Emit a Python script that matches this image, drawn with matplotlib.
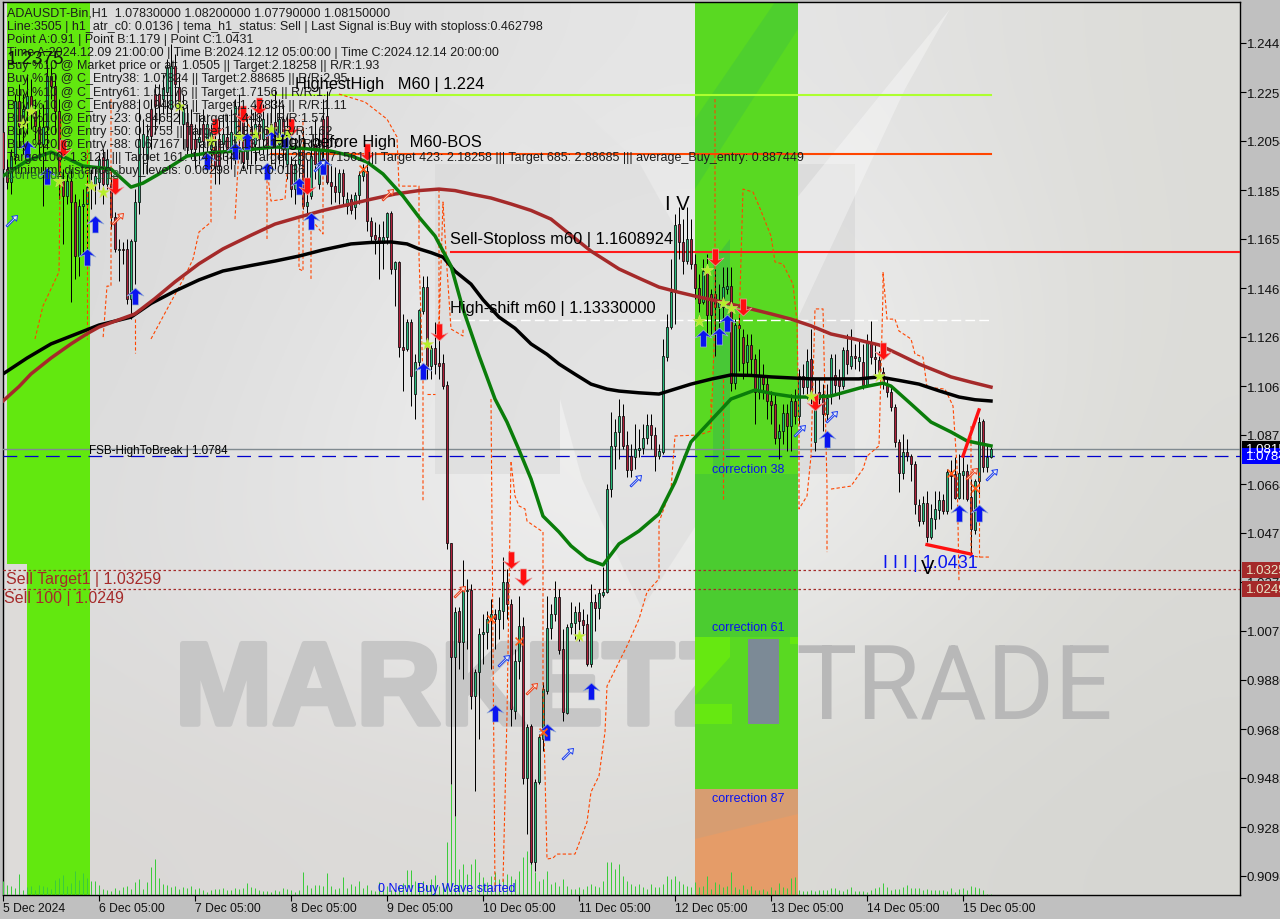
import numpy as np
import matplotlib
matplotlib.use('Agg')
import matplotlib.pyplot as plt
import matplotlib.patheffects as pe
from matplotlib.path import Path
from matplotlib.patches import Rectangle, Polygon
from matplotlib.transforms import blended_transform_factory

### Chart values (bar number = hours since 5 Dec 05:00).

opens = [1.2091,1.1942,1.1890,1.1994,1.2216,1.2115,1.2184,1.2236,1.2176,1.2111,1.2043,1.2111,1.2317,1.2276,1.2176,1.1894,
1.1833,1.1894,1.1809,1.1591,1.1793,1.1801,1.1890,1.1881,1.1890,1.1990,1.1881,1.1881,1.1748,1.1616,1.1620,1.1620,
1.1418,1.1652,1.1809,1.2031,1.1982,1.2184,1.2244,1.2244,1.2224,1.2252,1.2184,1.2357,1.2272,1.2123,1.2131,1.2123,
1.2063,1.2051,1.2123,1.2063,1.2023,1.2035,1.2063,1.2043,1.2071,1.2023,1.2035,1.2196,1.2143,1.1982,1.2103,1.2043,
1.2123,1.2063,1.2103,1.2043,1.2131,1.2043,1.2143,1.1962,1.1962,1.1861,1.1962,1.2023,1.1793,1.1833,1.2043,1.1881,
1.2143,1.2156,1.1890,1.1873,1.1849,1.1926,1.1793,1.1821,1.1789,1.1837,1.1914,1.1934,1.1732,1.1676,1.1668,1.1644,
1.1668,1.1765,1.1539,1.1567,1.1225,1.1217,1.1325,1.1035,1.1164,1.1370,1.1466,1.1148,1.1220,1.1160,1.1160,1.1071,
1.0435,0.9975,1.0161,1.0036,1.0241,1.0245,0.9818,0.9915,1.0068,1.0076,1.0128,1.0149,1.0128,1.0161,1.0278,1.0189,
0.9758,0.9959,1.0100,0.9488,0.9697,0.9149,0.9471,0.9645,0.9838,1.0092,1.0149,1.0217,1.0008,0.9750,1.0096,1.0112,
1.0157,1.0124,1.0108,0.9947,1.0197,1.0173,1.0225,1.0237,1.0652,1.0826,1.0882,1.0946,1.0830,1.0785,1.0781,1.0810,
1.0818,1.0858,1.0910,1.0870,1.0785,1.0801,1.1184,1.1305,1.1446,1.1720,1.1648,1.1571,1.1660,1.1559,1.1462,1.1406,
1.1531,1.1438,1.1438,1.1386,1.1386,1.1458,1.1470,1.1079,1.1313,1.1265,1.1164,1.1233,1.1176,1.1043,1.1108,1.1075,
1.1007,1.0995,1.0858,1.0886,1.0959,1.0906,1.1007,1.0946,1.1108,1.1063,1.1176,1.0842,1.1043,1.1035,1.0955,1.1035,
1.1112,1.1096,1.1067,1.1212,1.1148,1.1188,1.1168,1.1164,1.1071,1.1245,1.1184,1.1172,1.1124,1.1075,1.1043,1.0983,
1.0842,1.0717,1.0801,1.0785,1.0753,1.0588,1.0523,1.0596,1.0459,1.0531,1.0568,1.0608,1.0564,1.0721,1.0713,1.0616,
1.0709,1.0725,1.0620,1.0487,1.0685,1.0926,1.0741,1.0783]
highs = [1.2184,1.1982,1.2023,1.2244,1.2284,1.2244,1.2325,1.2305,1.2224,1.2184,1.2204,1.2365,1.2365,1.2325,1.2224,1.1942,
1.1922,1.1942,1.1841,1.1821,1.1861,1.1930,1.1942,1.1954,1.2002,1.2023,1.2023,1.1942,1.1769,1.1660,1.1648,1.1660,
1.1660,1.1861,1.2224,1.2143,1.2123,1.2224,1.2284,1.2284,1.2325,1.2385,1.2446,1.2405,1.2325,1.2244,1.2204,1.2184,
1.2123,1.2164,1.2184,1.2164,1.2123,1.2123,1.2143,1.2164,1.2164,1.2184,1.2224,1.2244,1.2204,1.2164,1.2184,1.2204,
1.2224,1.2204,1.2164,1.2224,1.2264,1.2224,1.2204,1.2164,1.1994,1.1982,1.2043,1.2103,1.1982,1.2063,1.2143,1.2103,
1.2224,1.2256,1.1962,1.1950,1.1942,1.1942,1.1849,1.1841,1.1849,1.1934,1.1962,1.1962,1.1748,1.1728,1.1720,1.1732,
1.1769,1.1773,1.1571,1.1571,1.1358,1.1337,1.1337,1.1196,1.1378,1.1511,1.1511,1.1233,1.1325,1.1257,1.1196,1.1088,
1.0435,1.0177,1.0177,1.0366,1.0290,1.0269,0.9927,1.0092,1.0149,1.0161,1.0209,1.0169,1.0217,1.0378,1.0330,1.0209,
1.0008,1.0221,1.0137,0.9705,0.9705,0.9484,0.9665,0.9875,1.0221,1.0189,1.0282,1.0249,1.0088,1.0108,1.0197,1.0181,
1.0197,1.0169,1.0149,1.0269,1.0229,1.0249,1.0338,1.0672,1.0963,1.0934,1.1015,1.0995,1.0886,1.0834,1.0914,1.0894,
1.0914,1.0955,1.0955,1.0902,1.0834,1.1257,1.1358,1.1579,1.1761,1.1789,1.1740,1.1789,1.1740,1.1599,1.1519,1.1579,
1.1599,1.1458,1.1539,1.1478,1.1547,1.1547,1.1547,1.1337,1.1358,1.1297,1.1277,1.1277,1.1196,1.1217,1.1156,1.1104,
1.1047,1.1035,1.0914,1.0995,1.0995,1.1035,1.1055,1.1136,1.1156,1.1217,1.1297,1.1096,1.1096,1.1075,1.1075,1.1196,
1.1196,1.1136,1.1225,1.1277,1.1297,1.1237,1.1257,1.1237,1.1277,1.1329,1.1237,1.1208,1.1144,1.1104,1.1063,1.0995,
1.0854,1.0874,1.0854,1.0793,1.0765,1.0612,1.0624,1.0644,1.0592,1.0644,1.0644,1.0632,1.0733,1.0769,1.0781,1.0793,
1.0785,1.0753,1.0693,1.0693,1.0942,1.0934,1.0834,1.0820]
lows = [1.1821,1.1861,1.1841,1.1962,1.2023,1.2002,1.2083,1.2103,1.2063,1.1982,1.1793,1.2023,1.2224,1.2083,1.1821,1.1640,
1.1801,1.1406,1.1499,1.1511,1.1599,1.1607,1.1781,1.1801,1.1861,1.1801,1.1861,1.1700,1.1607,1.1491,1.1559,1.1398,
1.1337,1.1478,1.1761,1.1922,1.1922,1.2023,1.2083,1.2123,1.2164,1.2143,1.2103,1.2204,1.2123,1.2023,1.2002,1.1982,
1.1942,1.1962,1.1982,1.2002,1.1942,1.1881,1.1881,1.1982,1.1962,1.1942,1.1962,1.1982,1.1942,1.1942,1.1962,1.1962,
1.2002,1.2002,1.1982,1.1962,1.1942,1.1962,1.1942,1.1902,1.1829,1.1801,1.1841,1.1781,1.1748,1.1821,1.1902,1.1861,
1.1962,1.1881,1.1801,1.1809,1.1801,1.1801,1.1761,1.1761,1.1740,1.1801,1.1894,1.1692,1.1652,1.1599,1.1499,1.1539,
1.1640,1.1519,1.1390,1.1184,1.1047,1.1208,1.0987,1.0934,1.1136,1.1358,1.1096,1.1096,1.1116,1.1096,1.1055,1.0411,
0.9463,0.9334,0.9927,0.9887,1.0008,0.9766,0.9435,0.9645,0.9947,1.0008,0.9927,1.0008,1.0048,1.0088,1.0128,0.9697,
0.9725,0.9887,0.9463,0.9262,0.9141,0.9113,0.9463,0.9596,0.9826,1.0048,1.0120,0.9987,0.9717,0.9746,1.0068,1.0048,
1.0040,1.0068,0.9939,0.9935,1.0080,1.0128,1.0217,1.0233,1.0620,1.0733,1.0773,1.0814,1.0701,1.0701,1.0733,1.0781,
1.0793,1.0834,1.0814,1.0725,1.0773,1.0793,1.1168,1.1297,1.1317,1.1579,1.1519,1.1559,1.1539,1.1418,1.1366,1.1398,
1.1269,1.1277,1.1188,1.1277,1.1337,1.1438,1.1047,1.1055,1.1128,1.1096,1.1116,1.1116,1.0914,1.1015,1.1015,1.0934,
1.0914,1.0834,1.0773,1.0834,1.0805,1.0805,1.0914,1.0914,1.1035,1.1015,1.0995,1.0805,1.0995,1.0886,1.0926,1.0995,
1.1035,1.1015,1.1055,1.1116,1.1136,1.1136,1.1128,1.1055,1.1063,1.1156,1.1116,1.1104,1.1055,1.1023,1.0967,1.0822,
1.0640,1.0693,1.0765,1.0685,1.0552,1.0503,1.0511,1.0439,1.0451,1.0491,1.0531,1.0552,1.0552,1.0572,1.0612,1.0612,
1.0612,1.0604,1.0390,1.0471,1.0632,1.0721,1.0721,1.0779]
closes = [1.1942,1.1890,1.1994,1.2216,1.2115,1.2184,1.2236,1.2184,1.2115,1.2043,1.2111,1.2317,1.2276,1.2176,1.1930,1.1833,
1.1894,1.1809,1.1591,1.1793,1.1801,1.1869,1.1869,1.1914,1.1982,1.1881,1.1982,1.1748,1.1620,1.1620,1.1616,1.1418,
1.1652,1.1809,1.2063,1.2083,1.2075,1.2075,1.2196,1.2196,1.2264,1.2353,1.2357,1.2284,1.2196,1.2184,1.2031,1.2023,
1.2023,1.2071,1.2055,1.2123,1.2091,1.1954,1.1954,1.2083,1.2023,1.2091,1.2196,1.2075,1.1970,1.2083,1.2023,1.2123,
1.2063,1.2143,1.2035,1.2123,1.2035,1.2143,1.2023,1.2063,1.1861,1.1962,1.2023,1.1793,1.1809,1.1994,1.1962,1.2023,
1.2023,1.1890,1.1873,1.1849,1.1926,1.1833,1.1821,1.1777,1.1837,1.1918,1.1934,1.1732,1.1672,1.1660,1.1644,1.1668,
1.1765,1.1539,1.1567,1.1225,1.1212,1.1325,1.1108,1.1164,1.1374,1.1466,1.1148,1.1220,1.1156,1.1148,1.1067,1.0435,
0.9975,1.0157,1.0036,1.0245,1.0245,0.9818,0.9915,1.0068,1.0076,1.0128,1.0149,1.0128,1.0165,1.0278,1.0189,0.9766,
0.9959,1.0100,0.9488,0.9693,0.9149,0.9471,0.9653,0.9846,1.0092,1.0149,1.0217,1.0004,0.9754,1.0096,1.0112,1.0157,
1.0120,1.0104,0.9947,1.0197,1.0173,1.0233,1.0237,1.0652,1.0826,1.0882,1.0946,1.0826,1.0729,1.0729,1.0814,1.0818,
1.0858,1.0910,1.0870,1.0785,1.0805,1.1188,1.1305,1.1446,1.1716,1.1648,1.1571,1.1660,1.1559,1.1462,1.1402,1.1531,
1.1354,1.1354,1.1386,1.1410,1.1466,1.1470,1.1079,1.1313,1.1301,1.1160,1.1233,1.1176,1.1043,1.1108,1.1075,1.1007,
1.0991,1.0858,1.0886,1.0959,1.0906,1.1007,1.0946,1.1108,1.1063,1.1168,1.1027,1.1027,1.1015,1.0955,1.1019,1.1180,
1.1071,1.1067,1.1212,1.1156,1.1188,1.1180,1.1184,1.1071,1.1245,1.1184,1.1176,1.1124,1.1075,1.1043,1.0983,1.0842,
1.0717,1.0801,1.0785,1.0753,1.0592,1.0523,1.0596,1.0459,1.0535,1.0572,1.0608,1.0564,1.0721,1.0705,1.0616,1.0717,
1.0725,1.0612,1.0491,1.0685,1.0922,1.0741,1.0781,1.0815]
volumes = [14,10,9,7,21,5,8,9,5,10,9,8,6,15,17,20,9,12,24,15,22,17,14,14,10,6,5,4,7,5,8,9,6,13,16,6,13,28,36,17,11,10,8,9,6,8,7,9,6,7,
5,3,5,6,6,7,5,5,7,6,7,12,8,7,5,4,4,3,5,4,7,6,5,3,5,23,10,7,10,10,9,22,9,6,7,18,7,11,9,14,7,10,5,4,13,6,9,5,5,9,
12,25,25,14,12,14,10,16,20,9,12,
53,111,79,26,31,21,31,36,23,18,13,19,23,16,16,21,19,16,24,38,44,33,23,14,16,24,11,13,9,16,9,6,6,8,6,9,11,9,8,14,33,33,26,31,19,14,11,9,11,8,6,11,8,8,11,19,16,19,14,11,9,8,13,8,9,19,6,13,11,8,9,23,8,6,
10,6,9,5,5,6,4,8,5,12,8,7,17,18,5,4,4,5,4,5,5,5,7,7,5,4,6,8,4,4,4,3,5,7,8,12,8,5,6,6,8,10,7,7,7,5,6,5,5,5,5,4,7,3,6,7,5,9,8,7,5,1,1]

black_bars = [0,6,12,18,24,32,37,43,49,55,62,68,74,80,87,92,97,101,104,107,110,113,117,120,124,128,132,136,139,143,147,151,154,159,164,168,172,177,182,187,192,197,202,208,214,219,224,229,234,239,243,247]
black_ma = [1.1116,1.1180,1.1237,1.1275,1.1313,1.1345,1.1400,1.1450,1.1495,1.1531,1.1553,1.1571,1.1591,1.1616,1.1640,1.1646,1.1648,1.1640,1.1620,1.1605,1.1587,1.1530,1.1478,1.1415,1.1345,1.1300,1.1237,1.1195,1.1156,1.1115,1.1075,1.1055,1.1047,1.1040,1.1035,1.1055,1.1075,1.1095,1.1112,1.1110,1.1104,1.1100,1.1096,1.1096,1.1096,1.1104,1.1090,1.1075,1.1048,1.1023,1.1012,1.1007]
brown_bars = [0,4,7,12,17,21,24,33,38,43,49,55,62,68,74,80,87,92,98,104,109,113,117,122,127,132,137,142,147,151,154,159,164,169,174,180,187,192,197,202,207,213,219,224,229,233,237,242,247]
brown_ma = [1.1007,1.1065,1.1116,1.1180,1.1237,1.1278,1.1305,1.1358,1.1420,1.1487,1.1560,1.1620,1.1675,1.1720,1.1748,1.1775,1.1801,1.1820,1.1841,1.1855,1.1861,1.1855,1.1841,1.1825,1.1801,1.1775,1.1740,1.1675,1.1611,1.1570,1.1539,1.1502,1.1466,1.1445,1.1426,1.1405,1.1378,1.1358,1.1337,1.1310,1.1277,1.1256,1.1233,1.1195,1.1156,1.1130,1.1104,1.1083,1.1063]
green_bars = [0,6,12,16,20,27,32,35,39,46,52,58,68,75,82,87,91,95,100,104,108,112,115,119,123,126,129,132,135,139,142,146,150,154,159,164,168,172,178,182,188,193,198,202,207,215,220,222,227,232,237,241,247]
green_ma = [1.1914,1.1975,1.2010,1.1985,1.1954,1.1942,1.1869,1.1885,1.1922,1.1994,1.2008,1.2014,1.2031,1.2025,1.2014,1.1995,1.1970,1.1922,1.1833,1.1748,1.1672,1.1551,1.1378,1.1190,1.1015,1.0922,1.0810,1.0693,1.0543,1.0479,1.0423,1.0370,1.0346,1.0431,1.0483,1.0552,1.0680,1.0842,1.0946,1.1015,1.1051,1.1035,1.1023,1.1023,1.1027,1.1063,1.1079,1.1067,1.0995,1.0922,1.0882,1.0846,1.0826]

# orange dashed envelope pieces
env_a_bars = [8,10,14,14.5]
env_a = [1.1257,1.1390,1.1527,1.2143]
env_b_bars = [21,21]
env_b = [1.2023,1.1257]
env_c_bars = [27,27,26,25]
env_c = [1.2224,1.1470,1.1470,1.1257]
env_d_bars = [33,33]
env_d = [1.1337,1.1200]
env_e_bars = [37,45.5,47.5,49,52,52,53]
env_e = [1.1257,1.1511,1.1579,1.1688,1.1728,1.1902,1.2143]
env_f_bars = [58,59,59,62]
env_f = [1.1740,1.2023,1.2184,1.2103]
env_g_bars = [66,66,67,70.5,71]
env_g = [1.1660,1.1942,1.1813,1.1821,1.1922]
env_h_bars = [74,74,75,75]
env_h = [1.1740,1.1539,1.1531,1.2143]
env_i_bars = [77,77,80,80]
env_i = [1.1499,1.1740,1.1680,1.1942]
env_j_bars = [84,90.5,96,98.5,99,104,104,105,105]
env_j = [1.2244,1.2212,1.2143,1.2071,1.1873,1.1873,1.1591,1.1096,1.0604]
env_k_bars = [106,108]
env_k = [1.1035,1.1035]
env_l_bars = [109,109,110,111,112,115,115]
env_l = [1.1861,1.1297,1.1809,1.1539,1.1297,1.1269,1.1297]
env_m_bars = [122,123]
env_m = [1.1015,0.9028]
env_n_bars = [127,126,125]
env_n = [1.0761,0.9737,0.9068]
env_o_bars = [127,128,129,130.5,131,135,135,135,136,137.5,138.5,143,146,147,149,150.5,151,153.5,156,159,161,164,164,167,168,174,177,177]
env_o = [1.0761,1.0624,1.0584,1.0572,1.0523,1.0479,1.0463,0.9846,0.9161,0.9165,0.9181,0.9181,0.9310,0.9431,0.9496,0.9673,0.9858,0.9939,1.0020,1.0128,1.0237,1.0290,1.0519,1.0652,1.0866,1.0870,1.0886,1.1015]
env_p_bars = [178,178,177]
env_p = [1.2224,1.1337,1.0894]
env_q_bars = [180,180]
env_q = [1.1096,1.0612]
env_r_bars = [184,185,187.5,189,192,193,195,197.5,198.5,199,199,201,202,203,205,206,206]
env_r = [1.1297,1.1861,1.1849,1.1793,1.1672,1.1567,1.1559,1.1478,1.1325,1.0882,1.0572,1.0624,1.0785,1.1378,1.1378,1.0664,1.0398]
env_s_bars = [207,212,215,216,219,220,220,221,223,224,227,228,230,231,235.5,237.5,238.5,239]
env_s = [1.0652,1.0664,1.0733,1.0785,1.0826,1.1446,1.1527,1.1337,1.1337,1.1289,1.1257,1.1196,1.1184,1.1063,1.1055,1.0987,1.0745,1.0278]
env_t_bars = [242,242,244,247]
env_t = [1.0906,1.0383,1.0378,1.0378]
env_u_bars = [244,244]
env_u = [1.0722,1.0378]

blue_up_bars = [6,11,23,21,33,51,58,61,67.5,70.5,66,74,77,80,105,123,136,147,175,179,181,206,239,244]
blue_up = [1.2023,1.1914,1.1720,1.1587,1.1430,1.1974,1.2014,1.2055,1.2071,1.2063,1.1934,1.1873,1.1732,1.1954,1.1128,0.9750,0.9673,0.9838,1.1261,1.1269,1.1321,1.0854,1.0556,1.0556]
red_down_bars = [15,28,53,60,64,72,76,91,109,127,130,178,185,203,220]
red_down = [1.2027,1.1873,1.2111,1.2164,1.2196,1.2111,1.1873,1.2010,1.1285,1.0366,1.0298,1.1587,1.1386,1.1003,1.1208]
star_bars = [7,5,14,22,25,44,52,59,63,67,69,71,106,144,176,174,180,182,202,219]
stars = [1.2176,1.2127,1.1894,1.1873,1.1849,1.2196,1.2055,1.2075,1.2083,1.2103,1.2063,1.2083,1.1237,1.0060,1.1535,1.1329,1.1402,1.1382,1.1027,1.1108]
hollow_blue_bars = [2,158,125,141,199,207,247,79]
hollow_blue = [1.1732,1.0685,0.9959,0.9584,1.0886,1.0942,1.0709,1.1954]
hollow_red_bars = [28.5,96,114,132,242]
hollow_red = [1.1740,1.1837,1.0237,0.9846,1.0713]
cross_bars = [122,129,135,237,243,90]
crosses = [1.0128,1.0040,0.9673,1.0717,1.0656,1.1942]

ytick_vals = [1.2450,1.2252,1.2055,1.1857,1.1660,1.1462,1.1265,1.1067,1.0870,1.0672,1.0475,1.0278,1.0080,0.9883,0.9685,0.9488,0.9290,0.9093]
ytick_text = ['1.24470','1.22510','1.20540','1.18570','1.16590','1.14620','1.12650','1.10680','1.08710','1.06640','1.04770','1.02700','1.00730','0.98860','0.96890','0.94820','0.92850','0.90980']
xtick_bars = [0,24,48,72,96,120,144,168,192,216,240]
xtick_text = ['5 Dec 2024','6 Dec 05:00','7 Dec 05:00','8 Dec 05:00','9 Dec 05:00','10 Dec 05:00','11 Dec 05:00','12 Dec 05:00','13 Dec 05:00','14 Dec 05:00','15 Dec 05:00']

header_lines = [
    'ADAUSDT-Bin,H1  1.07830000 1.08200000 1.07790000 1.08150000',
    'Line:3505 | h1_atr_c0: 0.0136 | tema_h1_status: Sell | Last Signal is:Buy with stoploss:0.462798',
    'Point A:0.91 | Point B:1.179 | Point C:1.0431',
    'Time A:2024.12.09 21:00:00 | Time B:2024.12.12 05:00:00 | Time C:2024.12.14 20:00:00',
    'Buy %10 @ Market price or at: 1.0505 || Target:2.18258 || R/R:1.93',
    'Buy %10 @ C_Entry38: 1.07824 || Target:2.88685 || R/R:2.95',
    'Buy %10 @ C_Entry61: 1.01176 || Target:1.7156 || R/R:1.7',
    'Buy %10 @ C_Entry88: 0.94863 || Target:1.47834 || R/R:1.11',
    'Buy %10 @ Entry -23: 0.84652 || Target:1.448 || R/R:1.57',
    'Buy %20 @ Entry -50: 0.7755 || Target:1.28176 || R/R:1.62',
    'Buy %20 @ Entry -88: 0.67167 || Target:1.13121 || R/R:3.07',
    'Target100: 1.3121 ||| Target 161: 1.47834 ||| Target 250: 1.71561 ||| Target 423: 2.18258 ||| Target 685: 2.88685 ||| average_Buy_entry: 0.887449',
    'minimum_distance_buy_levels: 0.06298 | ATR:0.0136',
]

### Figure parameters.

W, H = 1280, 920
FONT = 'Liberation Sans'
plt.rcParams['font.family'] = [FONT, 'DejaVu Sans']

fig = plt.figure(figsize=(W/100, H/100), dpi=100, facecolor='#c0c0c0')
ax = fig.add_axes([3/W, 1-896/H, (1240-3)/W, (896-3)/H])
ax.set_xlim(0, 309.25)
ax.set_ylim(0.9016, 1.2615)
ax.set_facecolor('#dddddd')
ax.set_zorder(2)

# pixel transform for decoration (x, y measured from the top-left of the picture)
px = matplotlib.transforms.Affine2D().scale(1, -1).translate(0, H)

### Background gradient.

grid = np.array([
    [[0xdc,0xdc,0xdc],[0xde,0xde,0xde],[0xe6,0xe6,0xe6],[0xe4,0xe4,0xe4],[0xdc,0xdc,0xd8]],
    [[0xda,0xda,0xda],[0xe6,0xe6,0xe6],[0xf2,0xf2,0xf2],[0xee,0xee,0xee],[0xdc,0xdc,0xd8]],
    [[0xde,0xde,0xde],[0xea,0xea,0xea],[0xf0,0xf0,0xf0],[0xe8,0xe8,0xe6],[0xda,0xda,0xd6]],
    [[0xda,0xd8,0xd6],[0xdc,0xda,0xd8],[0xdc,0xdb,0xd8],[0xd9,0xd9,0xd5],[0xd6,0xd6,0xd2]],
], dtype=float) / 255
ax.imshow(grid, extent=(0, 1, 0, 1), transform=ax.transAxes, aspect='auto',
          interpolation='bicubic', zorder=0)
ax.set_xlim(0, 309.25)
ax.set_ylim(0.9016, 1.2615)

### Bands (bars and prices).

ax.axvspan(1, 21.75, ymin=0, ymax=1, color='#62e80f', lw=0, zorder=1)
ax.axvspan(1, 6, ymin=0, ymax=(1.0350-0.9016)/(1.2615-0.9016), color='#dddbd9', lw=0, zorder=1.1)
ax.axvspan(173, 198.75, ymin=(0.9445-0.9016)/(1.2615-0.9016), ymax=1, color='#59d922', lw=0, zorder=1)
ax.axvspan(173, 198.75, ymin=0, ymax=(0.9445-0.9016)/(1.2615-0.9016), color='#e59c68', lw=0, zorder=1)

### Watermark.

def shape(points, color, alpha=1.0, z=0.6):
    ax.add_patch(Polygon(points, closed=True, transform=px, color=color, alpha=alpha, lw=0, zorder=z))

# M logo, legs and wedge, under the bands
shape([(435,165),(560,165),(560,475),(435,475)], '#d8d8d8', 0.55)
shape([(730,165),(855,165),(855,475),(730,475)], '#d4d4d4', 0.55)
shape([(560,165),(640,165),(715,300),(715,497),(642,610),(582,480),(560,400)], '#d8d8d8', 0.45)
shape([(715,497),(715,300),(950,10),(905,90),(760,400)], '#ffffff', 0.35)
shape([(430,90),(560,90),(640,165),(560,165)], '#e4e4e4', 0.5)
# darker stripes over the middle band
shape([(695,120),(775,3),(798,3),(798,30),(695,190)], '#45c63a', 0.5, 1.3)
shape([(713,262),(730,240),(730,475),(713,475)], '#45c63a', 0.85, 1.3)
shape([(695,475),(798,475),(798,638),(695,638)], '#48c934', 0.8, 1.3)
shape([(695,790),(798,790),(798,815),(695,840)], '#d49e74', 0.8, 1.3)
shape([(695,638),(730,638),(730,658),(695,697)], '#66e811', 1, 1.3)
shape([(695,705),(732,705),(732,725),(695,725)], '#66e811', 1, 1.3)
shape([(790,638),(798,638),(798,645),(790,645)], '#66e811', 1, 1.3)
shape([(748,640),(779,640),(779,725),(748,725)], '#7c8a96', 1, 1.5)

ax.text(175, 725, 'MARKETZ', transform=px, fontsize=84, fontweight='bold', color='#c6c6c6', family=FONT,
        ha='left', va='baseline', zorder=0.7, clip_on=True,
        path_effects=[pe.withStroke(linewidth=4, foreground='#c6c6c6')])
ax.text(795, 720, 'TRADE', transform=px, fontsize=74, color='#b8b8b8', family=['Roboto', FONT],
        ha='left', va='baseline', zorder=0.7, clip_on=True)

### Volumes.

bars = np.arange(len(opens))
vol_ax = ax.twinx()
vol_ax.set_ylim(0, 893)
vol_ax.set_zorder(3)
vol_ax.patch.set_visible(False)
vol_ax.yaxis.set_visible(False)
for s in vol_ax.spines.values():
    s.set_visible(False)
vol_ax.vlines(bars[:len(volumes)], 0, volumes, color='#3ccb3c', lw=0.72, snap=True)

### Overlay axes: everything priced sits above the volumes.

top = fig.add_axes(ax.get_position(), sharex=ax, sharey=ax, zorder=4)
top.patch.set_visible(False)
top.axis('off')

### Horizontal levels.

top.plot([67, 247], [1.2240, 1.2240], color='#adff2f', lw=1.5, zorder=2)
top.plot([67, 247], [1.2002, 1.2002], color='#ff4500', lw=1.5, zorder=2)
top.plot([112, 309.25], [1.1609, 1.1609], color='#ff1a1a', lw=1.5, zorder=2)
top.plot([112, 247], [1.1333, 1.1333], color='white', lw=1, dashes=(7, 3), zorder=2)
top.plot([0, 309.25], [1.0815, 1.0815], color='#808a90', lw=1, zorder=2)
top.plot([0, 309.25], [1.0784, 1.0784], color='#0000cd', lw=0.9, dashes=(11, 6), zorder=2)
top.plot([0, 309.25], [1.03259, 1.03259], color='#a52a2a', lw=0.9, dashes=(2, 2), zorder=2)
top.plot([0, 309.25], [1.0249, 1.0249], color='#a52a2a', lw=0.9, dashes=(2, 2), zorder=2)

### Candles.

opens_a, highs_a, lows_a, closes_a = map(np.array, (opens, highs, lows, closes))
is_up = closes_a >= opens_a
top.vlines(bars, lows_a, highs_a, color='black', lw=0.72, zorder=3, snap=True)
top.bar(bars[is_up], (closes_a-opens_a)[is_up], bottom=opens_a[is_up], width=0.74,
        color='#25b878', edgecolor='#0a0a0a', lw=0.55, zorder=4)
top.bar(bars[~is_up], (opens_a-closes_a)[~is_up], bottom=closes_a[~is_up], width=0.74,
        color='#b01f3a', edgecolor='#0a0a0a', lw=0.55, zorder=4)

### Dashed envelope.

for xs, ys in [(env_a_bars, env_a), (env_b_bars, env_b), (env_c_bars, env_c), (env_d_bars, env_d),
               (env_e_bars, env_e), (env_f_bars, env_f), (env_g_bars, env_g), (env_h_bars, env_h),
               (env_i_bars, env_i), (env_j_bars, env_j), (env_k_bars, env_k), (env_l_bars, env_l),
               (env_m_bars, env_m), (env_n_bars, env_n), (env_o_bars, env_o), (env_p_bars, env_p),
               (env_q_bars, env_q), (env_r_bars, env_r), (env_s_bars, env_s), (env_t_bars, env_t),
               (env_u_bars, env_u)]:
    top.plot(xs, ys, color='#ff4500', lw=0.8, dashes=(3, 2), zorder=5)

### Moving averages.

top.plot(black_bars, black_ma, color='black', lw=2.5, zorder=6)
top.plot(brown_bars, brown_ma, color='#a52a2a', lw=2.5, zorder=6)
top.plot(green_bars, green_ma, color='#0a7d0a', lw=2.5, zorder=6)
top.plot([240, 244], [1.0785, 1.0971], color='#ff1010', lw=2.4, zorder=7)
top.plot([231, 242], [1.0428, 1.0390], color='#ff1010', lw=2.4, zorder=7)

### Signal markers.

up_arrow = Path([(0,1),(1,0.05),(0.35,0.3),(0.35,-1),(-0.35,-1),(-0.35,0.3),(-1,0.05),(0,1)], closed=True)
down_arrow = Path([(0,-1),(1,-0.05),(0.35,-0.3),(0.35,1),(-0.35,1),(-0.35,-0.3),(-1,-0.05),(0,-1)], closed=True)
hollow = Path([(1,1),(0.05,0.85),(0.35,0.55),(-0.9,-0.7),(-0.7,-0.9),(0.55,0.35),(0.85,0.05),(1,1)], closed=True)

top.scatter(blue_up_bars, blue_up, marker=up_arrow, s=150, color='#0a14f0', edgecolor='#9db4d0', lw=0.5, zorder=8)
top.scatter(red_down_bars, red_down, marker=down_arrow, s=150, color='#ff1010', edgecolor='#e8a0a0', lw=0.5, zorder=8)
top.scatter(star_bars, stars, marker='*', s=85, color='#b5f02a', edgecolor='#d8e070', lw=0.4, zorder=8)
top.scatter(hollow_blue_bars, hollow_blue, marker=hollow, s=75, facecolor='#e4e8f0', edgecolor='#1a3cf0', lw=0.7, zorder=8)
top.scatter(hollow_red_bars, hollow_red, marker=hollow, s=75, facecolor='#f0e0d8', edgecolor='#f03c14', lw=0.7, zorder=8)
top.scatter(cross_bars, crosses, marker='x', s=32, color='#ff5a14', lw=1.2, zorder=8)

### Text on the chart.

for n, line in enumerate(header_lines):
    top.text(7, 14 + 13.1*n, line, transform=px, fontsize=9.0, color='#1c1c1c', va='center', ha='left', zorder=9, clip_on=False)

def label(x, y, s, size, color='black', **kw):
    top.text(x, y, s, transform=px, fontsize=size, color=color, va='center', ha='left', zorder=9, clip_on=False, **kw)

label(7, 60, '1.2375', 13.5, '#111111')
label(6, 176, 'Correction 0.0 | 1.18', 9.0, '#2a6a2a')
label(295, 85, 'HighestHigh   M60 | 1.224', 11.8)
label(273, 143, 'High before High   M60-BOS', 11.8)
label(450, 240, 'Sell-Stoploss m60 | 1.1608924', 11.8)
label(450, 309, 'High-shift m60 | 1.13330000', 11.8)
label(89, 451, 'FSB-HighToBreak | 1.0784', 8.4)
label(6, 580, 'Sell Target1 | 1.03259', 11.5, '#a52a2a')
label(4, 599, 'Sell 100 | 1.0249', 11.5, '#a52a2a')
label(883, 564, 'I I I | 1.0431', 13, '#0a14f0')
label(921, 569, 'V', 14.5)
label(665, 205, 'I V', 14.5)
label(712, 470, 'correction 38', 9.0, '#0a14f0')
label(712, 628, 'correction 61', 9.0, '#0a14f0')
label(712, 799, 'correction 87', 9.0, '#0a14f0')
label(378, 889, '0 New Buy Wave started', 9.0, '#0a14f0')

### Axes decoration.

ax.yaxis.tick_right()
ax.set_yticks(ytick_vals)
ax.set_yticklabels(ytick_text, fontsize=9.5, color='#111111')
ax.set_xticks(xtick_bars)
ax.set_xticklabels(xtick_text, fontsize=8.7, color='#111111', ha='left')
ax.tick_params(axis='y', length=4, width=0.8, pad=1)
ax.tick_params(axis='x', length=4, width=0.8, pad=1)
for s in ax.spines.values():
    s.set_color('black')
    s.set_linewidth(1)

### Price tags on the right scale.

tag_tr = blended_transform_factory(fig.transFigure, ax.transData)
tags = [(1.0815, '1.08150', 'black', 'white'), (1.0784, '1.07840', '#0000ff', 'white'),
        (1.03259, '1.03259', '#a52a2a', '#e6e6c8'), (1.0249, '1.02490', '#a52a2a', '#e6e6c8')]
for price, text, bg, fg in tags:
    fig.add_artist(Rectangle((1242/W, price-0.0032), 38/W, 0.0064, transform=tag_tr, color=bg, lw=0, zorder=10))
    fig.text(1246/W, price, text, transform=tag_tr, fontsize=9.5, color=fg, va='center', ha='left', zorder=11)

fig.savefig('out.png', dpi=100, facecolor=fig.get_facecolor())
